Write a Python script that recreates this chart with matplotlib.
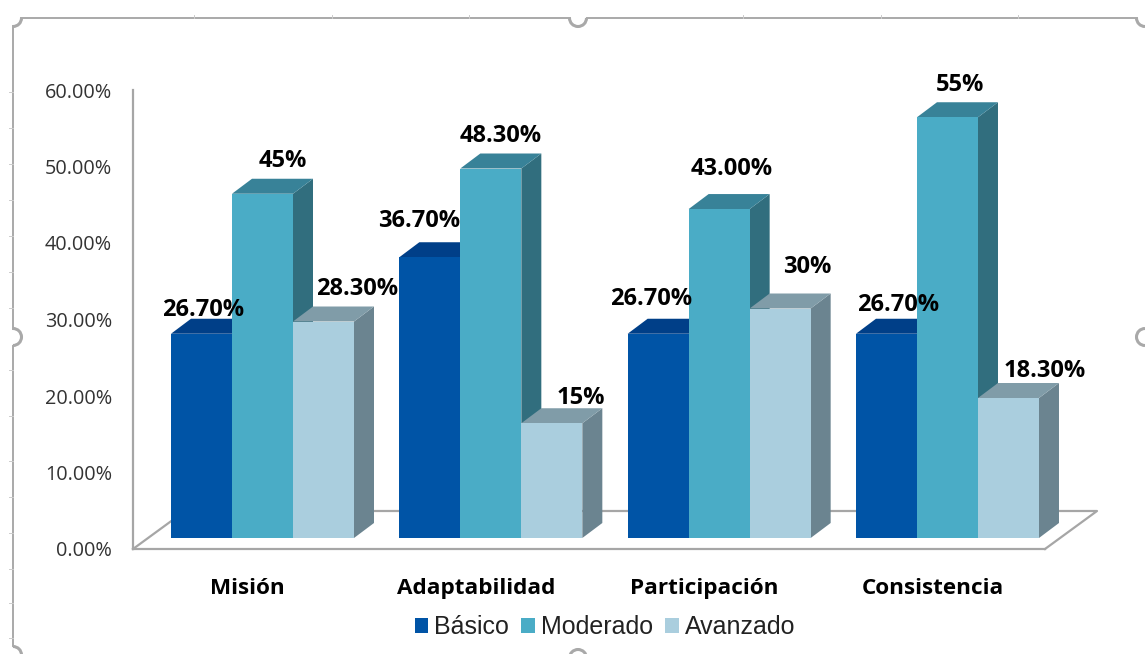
#librerías usadas
import matplotlib
matplotlib.use("Agg")
import matplotlib.pyplot as plt
from matplotlib.lines import Line2D
from matplotlib.patches import Arc, Patch, Polygon
import numpy as np

# Datos
categorias = ['Misión', 'Adaptabilidad', 'Participación', 'Consistencia']
basico = [26.7, 36.7, 26.7, 26.7]
moderado = [45, 48.3, 43, 55]
avanzado = [28.3, 15, 30, 18.3]
etiquetas_basico = ['26.70%', '36.70%', '26.70%', '26.70%']
etiquetas_moderado = ['45%', '48.30%', '43.00%', '55%']
etiquetas_avanzado = ['28.30%', '15%', '30%', '18.30%']
ticks_y = [0, 10, 20, 30, 40, 50, 60]

W, H = 1145, 654
px_x = 228.33  # píxeles por categoría
px_y = 7.65  # píxeles por punto porcentual
x0_px, y0_px = 262.5, 549  # posición de la categoría 0 y del 0%

fig = plt.figure(figsize=(W / 100, H / 100), dpi=100, facecolor='white')
ax = fig.add_axes([0, 0, 1, 1])
ax.set_xlim(-x0_px / px_x, (W - x0_px) / px_x)
ax.set_ylim(-(H - y0_px) / px_y, y0_px / px_y)
ax.patch.set_alpha(0)

# Profundidad del efecto 3D
ancho = 61 / px_x
dx = 20 / px_x
dy = 15 / px_y
base = 11 / px_y  # las barras arrancan sobre el piso
x = np.arange(len(categorias))

# Piso y pared
gris = '#a6a6a6'
izq, der = (133 - x0_px) / px_x, (1045 - x0_px) / px_x
fondo = 38 / px_y
ax.plot([izq, izq + 52 / px_x], [0, fondo], color=gris, lw=1.6, zorder=1)
ax.plot([izq + 52 / px_x, der + 52 / px_x, der], [fondo, fondo, 0], color=gris, lw=1.6, zorder=1)
for lado in ['top', 'right']:
    ax.spines[lado].set_visible(False)
ax.spines['left'].set_position(('data', izq))
ax.spines['left'].set_bounds(0, 60)
ax.spines['bottom'].set_position(('data', 0))
ax.spines['bottom'].set_bounds(izq, der)
for lado in ['left', 'bottom']:
    ax.spines[lado].set_color(gris)
    ax.spines[lado].set_linewidth(1.6)

ax.set_yticks(ticks_y)
ax.set_yticklabels([f'{t:.2f}%' for t in ticks_y], family='Open Sans', fontsize=14.3, color='#333333')
ax.tick_params(axis='y', length=0, pad=15)
ax.set_xticks(x - 15 / px_x)
ax.set_xticklabels(categorias, family='Open Sans', fontweight='bold', fontsize=16.2, color='black')
ax.tick_params(axis='x', length=0, pad=21)

series = [
    (basico, '#0054a6', '#003f88', '#003a70', etiquetas_basico, 'Básico',
     [(1.5, 24), (-10.5, 36), (-7.5, 35), (11.5, 29)]),
    (moderado, '#4aacc6', '#388298', '#316e7e', etiquetas_moderado, 'Moderado',
     [(20.5, 33), (9.5, 32.5), (12.5, 40), (12.5, 32)]),
    (avanzado, '#aacede', '#809ca8', '#6b8490', etiquetas_avanzado, 'Avanzado',
     [(33.5, 32.5), (29.5, 25), (27.5, 41.5), (36.5, 27)]),
]

# Barras: cara frontal con bar(), tapa y lateral con polígonos
for j, (valores, frente, tapa, lateral, etiquetas, nombre, despl) in enumerate(series):
    xs = x + (j - 1) * ancho
    for xc, v in zip(xs, valores):
        a, b = xc - ancho / 2, xc + ancho / 2
        t = base + v
        ax.add_patch(Polygon([(b, base), (b + dx, base + dy), (b + dx, t + dy), (b, t)],
                             facecolor=lateral, edgecolor='none', zorder=2 + j))
        ax.add_patch(Polygon([(a, t), (a + dx, t + dy), (b + dx, t + dy), (b, t)],
                             facecolor=tapa, edgecolor='none', zorder=2 + j))
    ax.bar(xs, valores, width=ancho, bottom=base, color=frente, zorder=2 + j)
    for xc, v, txt, (ox, oy) in zip(xs, valores, etiquetas, despl):
        ax.annotate(txt, (xc, base + v), xytext=(ox, oy), textcoords='offset pixels',
                    ha='center', va='center', family='Open Sans', fontweight='bold',
                    fontsize=17, color='black', zorder=10)

# Leyenda
handles = [Patch(facecolor=s[1], label=s[5]) for s in series]
ax.legend(handles=handles, ncol=3, loc='center', bbox_to_anchor=(605 / W, 1 - 627 / H),
          bbox_transform=fig.transFigure, frameon=False, handlelength=0.55, handleheight=0.55,
          handletextpad=0.25, columnspacing=0.47, borderpad=0,
          prop={'family': 'Liberation Sans', 'size': 18}, labelcolor='#222222')

# Marco de selección de la imagen, con sus marcas y tiradores
marco = '#a9a9a9'
def linea(xp, yp, lw=1.4, color=marco):
    fig.add_artist(Line2D(np.array(xp) / W, 1 - np.array(yp) / H, color=color, lw=lw))

linea([21, 570], [18, 18])
linea([587, 1137], [18, 18])
linea([13, 13], [26, 329])
linea([13, 13], [346, 646])
for xp in [194, 332, 469, 743, 881, 1018]:
    linea([xp, xp], [15, 18], lw=0.7, color='#cccccc')
for yp in [92, 128, 164, 200, 236, 272, 308, 370, 416, 461, 497, 533, 569, 603, 638]:
    linea([9, 13], [yp, yp], lw=0.7, color='#cccccc')

marco_ax = fig.add_axes([0, 0, 1, 1])
marco_ax.set_xlim(0, W)
marco_ax.set_ylim(0, H)
marco_ax.axis('off')
marco_ax.patch.set_alpha(0)
tiradores = [(13, 18, 270, 360), (578, 18, 180, 360), (13, 337, -90, 90), (1145, 337, 90, 270),
             (1145, 18, 180, 270), (13, 655, 0, 90), (578, 658, 0, 180)]
for cx, cy, t1, t2 in tiradores:
    marco_ax.add_patch(Arc((cx, H - cy), 17, 17, theta1=t1, theta2=t2, color=marco, lw=2.2))

fig.savefig('out.png', dpi=100)
